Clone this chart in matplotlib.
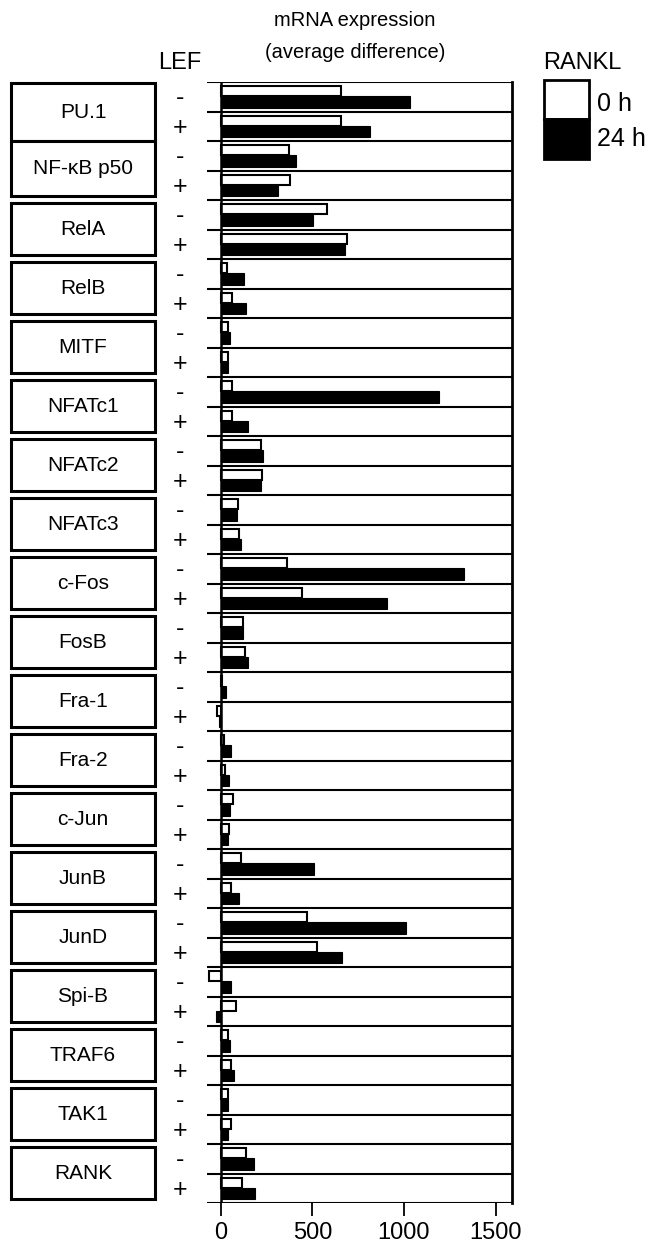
import matplotlib
matplotlib.use("Agg")
import matplotlib.pyplot as plt
from matplotlib.patches import Rectangle

plt.rcParams['font.family'] = ['Liberation Sans', 'DejaVu Sans']

genes = ["PU.1", "NF-κB p50", "RelA", "RelB", "MITF", "NFATc1", "NFATc2",
         "NFATc3", "c-Fos", "FosB", "Fra-1", "Fra-2", "c-Jun", "JunB", "JunD",
         "Spi-B", "TRAF6", "TAK1", "RANK"]
lef_labels = ["-", "+"]

# values per gene: [LEF -, LEF +]
rankl_0h = [658, 658, 370, 380, 580, 687, 35, 62, 42, 40, 60, 60, 220, 223,
            96, 101, 363, 441, 120, 135, 8, -20, 20, 25, 65, 45, 109, 54,
            470, 527, -64, 83, 41, 56, 41, 54, 136, 115]
rankl_24h = [1034, 816, 412, 310, 503, 677, 125, 137, 53, 37, 1191, 150, 232,
             218, 89, 109, 1326, 909, 124, 150, 30, -10, 55, 45, 50, 41, 508,
             100, 1010, 661, 56, -27, 51, 72, 37, 41, 181, 185]
xticks = [0, 500, 1000, 1500]

W, H = 652, 1244
fig = plt.figure(figsize=(W / 100, H / 100), dpi=100)

def fx(px):
    return px / W

def fy(py):
    return 1 - py / H

top_px, bot_px = 82, 1203
left_px, right_px = 207, 512
n_rows = len(genes) * 2

ax = fig.add_axes([fx(left_px), fy(bot_px), fx(right_px - left_px),
                   (bot_px - top_px) / H])
ax.set_xlim(-75, 1590)
ax.set_ylim(n_rows, 0)

for i in range(n_rows):
    ax.barh(i + 0.31, rankl_0h[i], height=0.34, left=0, color='white',
            edgecolor='black', linewidth=1.5, zorder=3)
    ax.barh(i + 0.68, rankl_24h[i], height=0.40, left=0, color='black',
            edgecolor='black', linewidth=0.8, zorder=3)

for i in range(n_rows + 1):
    ax.axhline(i, color='black', lw=1.5, zorder=2)
ax.axvline(0, color='black', lw=1.8, zorder=4)

for s in ['left', 'top', 'bottom']:
    ax.spines[s].set_visible(False)
ax.spines['right'].set_linewidth(2)
ax.set_yticks([])
ax.set_xticks(xticks)
ax.set_xticklabels([str(t) for t in xticks], fontsize=17)
ax.tick_params(axis='x', length=9.5, width=1.3, pad=4, direction='out')

# left panel: gene boxes and LEF signs
axl = fig.add_axes([0, fy(bot_px), fx(left_px), (bot_px - top_px) / H])
axl.set_xlim(0, left_px)
axl.set_ylim(n_rows, 0)
axl.axis('off')
for g, name in enumerate(genes):
    y0 = 2 * g + 0.1
    y1 = 2 * g + 1.88
    if g == 0:
        y0 = 0.04
        y1 = 2.0
    if g == 1:
        y0 = 2.0
    axl.add_patch(Rectangle((11, y0), 144, y1 - y0, facecolor='white',
                            edgecolor='black', linewidth=2.2, clip_on=False))
    axl.text(83, (y0 + y1) / 2, name, ha='center', va='center', fontsize=15)
    for k, s in enumerate(lef_labels):
        axl.text(180, 2 * g + k + 0.55, s, ha='center', va='center',
                 fontsize=18)

# headers
fig.text(fx(355), fy(21), "mRNA expression", ha='center', va='center',
         fontsize=14.5)
fig.text(fx(355), fy(53), "(average difference)", ha='center', va='center',
         fontsize=14.5)
fig.text(fx(180), fy(63), "LEF", ha='center', va='center', fontsize=17)
fig.text(fx(582), fy(63), "RANKL", ha='center', va='center', fontsize=17)

# legend
axg = fig.add_axes([0, 0, 1, 1])
axg.set_xlim(0, W)
axg.set_ylim(H, 0)
axg.axis('off')
axg.add_patch(Rectangle((544, 80), 45, 39, facecolor='white',
                        edgecolor='black', linewidth=2))
axg.add_patch(Rectangle((544, 119), 45, 40, facecolor='black',
                        edgecolor='black', linewidth=2))
axg.text(597, 104, "0 h", ha='left', va='center', fontsize=18)
axg.text(597, 139, "24 h", ha='left', va='center', fontsize=18)

fig.savefig("out.png", dpi=100, facecolor='white')
